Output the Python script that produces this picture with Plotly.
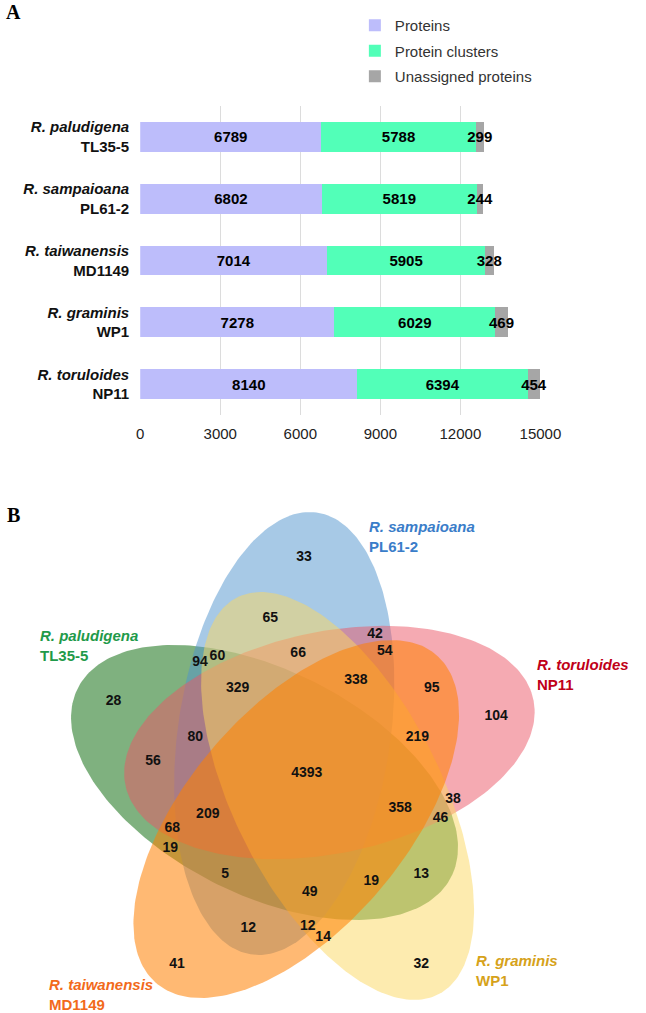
import numpy as np
import plotly.graph_objects as go

# ---------------- Panel A data ----------------
strains = ["<i>R. paludigena</i><br>TL35-5", "<i>R. sampaioana</i><br>PL61-2",
           "<i>R. taiwanensis</i><br>MD1149", "<i>R. graminis</i><br>WP1",
           "<i>R. toruloides</i><br>NP11"]
proteins = [6789, 6802, 7014, 7278, 8140]
clusters = [5788, 5819, 5905, 6029, 6394]
unassigned = [299, 244, 328, 469, 454]
series_names = ["Proteins", "Protein clusters", "Unassigned proteins"]
x_ticks = [0, 3000, 6000, 9000, 12000, 15000]

# ---------------- Panel B data ----------------
venn_species = ["R. paludigena", "R. sampaioana", "R. toruloides", "R. graminis", "R. taiwanensis"]
venn_ids = ["TL35-5", "PL61-2", "NP11", "WP1", "MD1149"]
venn_counts = [33, 65, 66, 94, 60, 329, 28, 80, 56, 42, 54, 338, 95, 104, 219,
               4393, 358, 38, 46, 209, 68, 19, 5, 49, 12, 12, 14, 19, 13, 41, 32]

# ---------------- layout geometry (pixel coordinates of panel B) ----------------
count_pos = [(312, 557), (277, 618), (306, 653), (204, 662), (222, 656), (243, 688),
             (114, 701), (199, 737), (155, 761), (386, 634), (396, 651), (366, 680),
             (445, 688), (512, 716), (430, 737), (315, 773), (412, 808), (467, 799),
             (454, 818), (212, 814), (175, 828), (173, 848), (230, 874), (318, 892),
             (254, 928), (316, 926), (332, 937), (382, 881), (434, 874), (180, 964),
             (434, 964)]
ellipse_geom = [  # center, semi-axes, angle, base colour, alpha  (drawing order)
    dict(c=(271, 782.5), a=216, b=113, ang=25.2, rgb=(0, 100, 0), alpha=0.5),
    dict(c=(291.5, 733.5), a=223.6, b=110.4, ang=99.0, rgb=(79, 148, 205), alpha=0.5),
    dict(c=(338.5, 742.5), a=216.5, b=111, ang=-11.1, rgb=(235, 85, 101), alpha=0.5),
    dict(c=(347, 796), a=224.4, b=106.8, ang=61.7, rgb=(251, 215, 95), alpha=0.5),
    dict(c=(304, 819), a=219.5, b=112, ang=-47.7, rgb=(255, 127, 0), alpha=0.55),
]
label_geom = [  # x (left), y (middle), colour -- same order as venn_species
    (35, 645, "#1F9A4A"),
    (378, 536, "#3A7DC9"),
    (552, 674, "#C00018"),
    (489, 970, "#D6A21A"),
    (45, 994, "#F26A1B"),
]

FONT = "Liberation Sans, Arial, sans-serif"
W, H = 646, 1013

fig = go.Figure()

bar_colors = ["#BDBDFB", "#52FFB8", "#A6A6A6"]
for name, vals, col in zip(series_names, [proteins, clusters, unassigned], bar_colors):
    fig.add_trace(go.Bar(
        y=strains, x=vals, name=name, orientation="h",
        marker=dict(color=col, line=dict(width=0)),
        text=vals, texttemplate="%{x}", textposition="inside",
        insidetextanchor="middle", constraintext="none", textangle=0,
        textfont=dict(family=FONT, size=15, color="#000000", weight="bold"),
        cliponaxis=False, width=0.48, legendgroup=name,
        xaxis="x", yaxis="y", hoverinfo="skip",
    ))

# Venn ellipses
t = np.linspace(0, 2 * np.pi, 240)
for g in ellipse_geom:
    th = np.deg2rad(g["ang"])
    cx, cy = g["c"]
    ex = cx + g["a"] * np.cos(t) * np.cos(th) - g["b"] * np.sin(t) * np.sin(th)
    ey = cy + g["a"] * np.cos(t) * np.sin(th) + g["b"] * np.sin(t) * np.cos(th)
    r, gg, b = g["rgb"]
    fig.add_trace(go.Scatter(
        x=ex, y=ey, mode="lines", fill="toself",
        fillcolor=f"rgba({r},{gg},{b},{g['alpha']})", line=dict(width=0),
        xaxis="x2", yaxis="y2", showlegend=False, hoverinfo="skip",
    ))

fig.add_trace(go.Scatter(
    x=[p[0] for p in count_pos], y=[p[1] for p in count_pos],
    text=[str(v) for v in venn_counts], mode="text",
    textfont=dict(family=FONT, size=14, color="#111111", weight="bold"),
    xaxis="x2", yaxis="y2", showlegend=False, hoverinfo="skip",
))

annotations = []
for sp, sid, (lx, ly, col) in zip(venn_species, venn_ids, label_geom):
    annotations.append(dict(
        x=lx, y=ly, xref="x2", yref="y2", xanchor="left", yanchor="middle",
        align="left", showarrow=False,
        text=f"<b><i>{sp}</i><br>{sid}</b>",
        font=dict(family=FONT, size=15, color=col),
    ))
annotations.append(dict(x=10 / W, y=1 - 12 / H, xref="paper", yref="paper",
                        text="<b>A</b>", showarrow=False, xanchor="center", yanchor="middle",
                        font=dict(family="Liberation Serif, Times New Roman, serif", size=20, color="#000")))
annotations.append(dict(x=10 / W, y=1 - 515 / H, xref="paper", yref="paper",
                        text="<b>B</b>", showarrow=False, xanchor="center", yanchor="middle",
                        font=dict(family="Liberation Serif, Times New Roman, serif", size=20, color="#000")))

fig.update_layout(
    width=W, height=H, margin=dict(l=0, r=0, t=0, b=0),
    paper_bgcolor="white", plot_bgcolor="white",
    barmode="stack", bargap=0.52,
    font=dict(family=FONT, color="#222"),
    xaxis=dict(domain=[141.7 / W, 558 / W], range=[0, 15000], tickvals=x_ticks,
               tickformat="d", showgrid=True, gridcolor="#DCDCDC", gridwidth=1,
               zeroline=False, showline=False, ticks="", ticklabelstandoff=8,
               tickfont=dict(family=FONT, size=15, color="#222"), anchor="y"),
    yaxis=dict(domain=[1 - 415 / H, 1 - 106 / H], autorange="reversed",
               showgrid=False, showline=False, ticks="", ticklabelstandoff=10,
               tickfont=dict(family=FONT, size=15, color="#111", weight="bold"), anchor="x"),
    xaxis2=dict(domain=[0, 1], range=[0, W], visible=False, anchor="y2"),
    yaxis2=dict(domain=[0, 1 - 500 / H], range=[H, 500], visible=False, anchor="x2"),
    legend=dict(x=365 / W, y=1 - 9 / H, xanchor="left", yanchor="top",
                traceorder="grouped", tracegroupgap=3, itemwidth=30,
                font=dict(family=FONT, size=15, color="#333"), bgcolor="rgba(0,0,0,0)"),
    annotations=annotations,
)

fig.write_html("out.html")
